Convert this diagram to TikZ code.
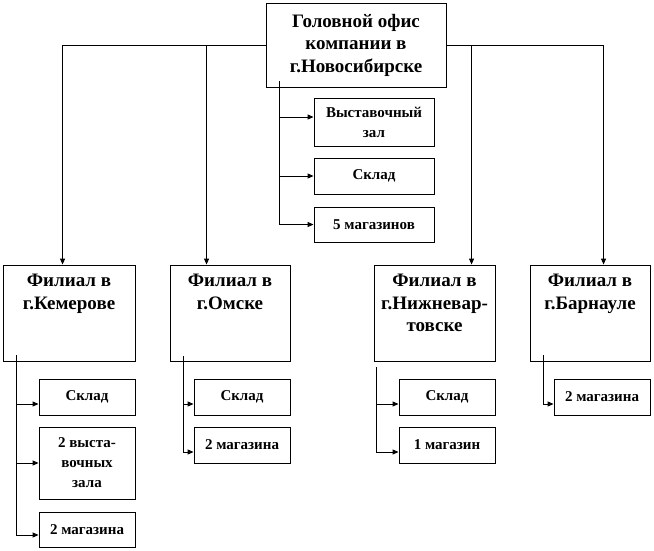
\documentclass[tikz,border=0pt]{standalone}
\usepackage{fontspec}
\setmainfont{LiberationSerif}[Extension=.ttf,UprightFont=*-Regular,BoldFont=*-Bold]
\usetikzlibrary{arrows.meta}
\begin{document}
\begin{tikzpicture}[x=1pt,y=-1pt,
  box/.style={draw,line width=0.9pt,inner sep=0pt,align=center},
  bigtxt/.style={font=\bfseries\fontsize{19}{22.5}\selectfont,align=center,inner sep=0pt},
  subbox/.style={box,minimum width=96pt,font=\bfseries\fontsize{15}{20}\selectfont},
  conn/.style={line width=0.9pt},
  arr/.style={conn,-{Triangle[length=6pt,width=5pt]}}]
\useasboundingbox (0,0) rectangle (654,550);
% head
\node[box,bigtxt,draw,line width=0.9pt,minimum width=180pt,minimum height=84pt] (head) at (356,45)
  {Головной офис\\компании в\\г.Новосибирске};
\node[subbox,minimum width=120pt,minimum height=48pt] (vz0) at (374,122) {Выставочный\\зал};
\node[subbox,minimum width=120pt,minimum height=36pt] (sk0) at (374,176) {Склад};
\node[subbox,minimum width=120pt,minimum height=35pt] (m0) at (374,224.5) {5 магазинов};
% branches
\node[box,minimum width=132pt,minimum height=96pt] (kem) at (69,313) {};
\node[bigtxt,anchor=north] (kemt) at (69,274) {Филиал в\\г.Кемерове};
\node[box,minimum width=120pt,minimum height=96pt] (omsk) at (230,313) {};
\node[bigtxt,anchor=north] (omskt) at (230,274) {Филиал в\\г.Омске};
\node[box,minimum width=121pt,minimum height=96pt] (nizh) at (434.5,313) {};
\node[bigtxt,anchor=north] (nizht) at (434.5,274) {Филиал в\\г.Нижневар-\\товске};
\node[box,minimum width=120pt,minimum height=96pt] (barn) at (590,313) {};
\node[bigtxt,anchor=north] (barnt) at (590,274) {Филиал в\\г.Барнауле};
% sub boxes
\node[subbox,minimum height=36pt] (sk1) at (87,397) {Склад};
\node[subbox,minimum height=72pt] (vz1) at (87,463) {2 выста-\\вочных\\зала};
\node[subbox,minimum height=35pt] (m1) at (87,529.5) {2 магазина};
\node[subbox,minimum height=36pt] (sk2) at (242,397) {Склад};
\node[subbox,minimum height=36pt] (m2) at (242,445) {2 магазина};
\node[subbox,minimum height=36pt] (sk3) at (447,397) {Склад};
\node[subbox,minimum height=36pt] (m3) at (447,445) {1 магазин};
\node[subbox,minimum height=36pt] (m4) at (602,397) {2 магазина};
% head to branches
\draw[arr] (head.west) -| ([xshift=60pt]kem.north west);
\draw[arr] (head.west) -| ([xshift=37pt]omsk.north west);
\draw[arr] (head.east) -| ([xshift=98pt]nizh.north west);
\draw[arr] (head.east) -| ([xshift=74pt]barn.north west);
% head spine
\coordinate (hs) at (279,81);
\draw[arr] (hs) |- ([yshift=5pt]vz0.west);
\draw[arr] (hs) |- (sk0.west);
\draw[arr] (hs) |- (m0.west);
% kemerovo spine
\coordinate (ks) at (16,355);
\draw[arr] (ks) |- ([yshift=-7pt]sk1.west);
\draw[arr] (ks) |- (vz1.west);
\draw[arr] (ks) |- ([yshift=-5.5pt]m1.west);
% omsk spine
\coordinate (os) at (183,356);
\draw[arr] (os) |- ([yshift=-7pt]sk2.west);
\draw[arr] (os) |- ([yshift=-7pt]m2.west);
% nizh spine
\coordinate (ns) at (376,367);
\draw[arr] (ns) |- ([yshift=-7pt]sk3.west);
\draw[arr] (ns) |- ([yshift=-7pt]m3.west);
% barnaul spine
\coordinate (bs) at (543,355);
\draw[arr] (bs) |- ([yshift=-7pt]m4.west);
\end{tikzpicture}
\end{document}
